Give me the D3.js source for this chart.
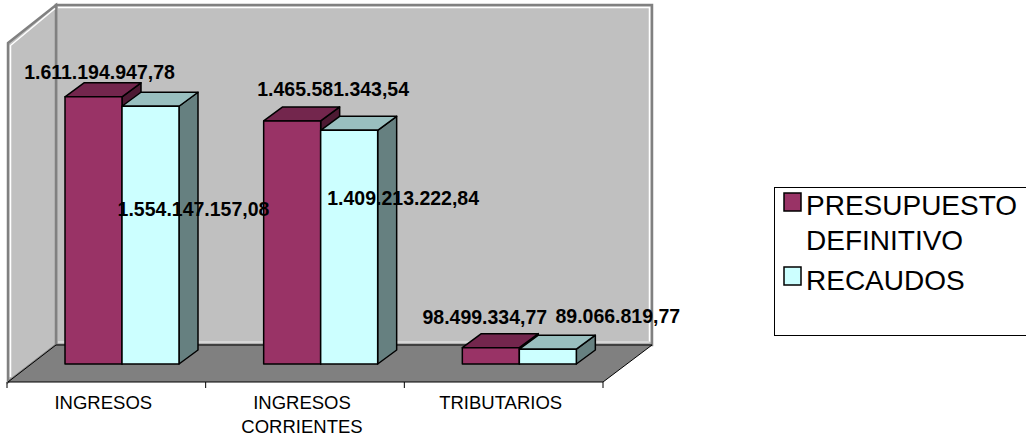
<!DOCTYPE html>
<html>
<head>
<meta charset="utf-8">
<script src="https://cdn.jsdelivr.net/npm/d3@7"></script>
<style>
  body { margin: 0; background: #fff; }
  svg { display: block; font-family: "Liberation Sans", Arial, sans-serif; }
</style>
</head>
<body>
<svg id="chart" width="1026" height="437"></svg>
<script>
// data
const categories = ['INGRESOS', 'INGRESOS CORRIENTES', 'TRIBUTARIOS'];
const categoryLines = [['INGRESOS'], ['INGRESOS', 'CORRIENTES'], ['TRIBUTARIOS']];
const seriesNames = ['PRESUPUESTO DEFINITIVO', 'RECAUDOS'];
const legendLines = [['PRESUPUESTO', 'DEFINITIVO'], ['RECAUDOS']];
const presupuesto = [1611194947.78, 1465581343.54, 98499334.77];
const recaudos = [1554147157.08, 1409213222.84, 89066819.77];

// layout only: where each value label sits, relative to the bar's top-front centre
const labelShift = [
  [[6, -18], [43, 110]],
  [[41, -25], [54, 75]],
  [[-6, -24], [70, -26]]
];

const frontColor = ['#993366', '#CCFFFF'];
const topColor = ['#73264D', '#99BFBF'];
const sideColor = ['#4D1A33', '#668080'];

const es = d3.formatLocale({decimal: ',', thousands: '.', grouping: [3], currency: ['', '']});
const fmt = es.format(',.2f');

const svg = d3.select('#chart');

// floor / walls frame (oblique 3d box)
const floorFrontY = 382, floorBackY = 345;
const leftFront = 8, leftBack = 56, rightFront = 603, rightBack = 652;
const wallTop = 5, leftWallTop = 43;
const baseY = 364;           // bars stand mid-depth on the floor
const barW = 57, depthX = 19, depthY = 14;

const x = d3.scaleBand().domain(categories).range([7, rightFront]);
const xs = d3.scaleBand().domain(seriesNames).range([58, 58 + barW * 2]);
const y = d3.scaleLinear().domain([0, 2.05e9]).range([0, floorBackY - wallTop]);

const poly = pts => 'M' + pts.map(p => p.join(',')).join('L') + 'Z';
const pline = pts => 'M' + pts.map(p => p.join(',')).join('L');

// back wall
svg.append('path')
  .attr('d', poly([[leftBack, wallTop], [rightBack, wallTop], [rightBack, floorBackY], [leftBack, floorBackY]]))
  .attr('fill', '#C0C0C0').attr('stroke', '#808080').attr('stroke-width', 2.5);
svg.append('path')
  .attr('d', pline([[leftBack + 2, wallTop + 2.5], [rightBack - 2.5, wallTop + 2.5], [rightBack - 2.5, floorBackY - 3]]))
  .attr('fill', 'none').attr('stroke', '#fff').attr('stroke-width', 1.5);
svg.append('path')
  .attr('d', pline([[leftBack + 2, floorBackY - 3], [rightBack - 2.5, floorBackY - 3]]))
  .attr('fill', 'none').attr('stroke', '#d6d6d6').attr('stroke-width', 2);

// left wall
svg.append('path')
  .attr('d', poly([[leftFront, leftWallTop], [leftBack, wallTop], [leftBack, floorBackY], [leftFront, floorFrontY]]))
  .attr('fill', '#C0C0C0').attr('stroke', '#808080').attr('stroke-width', 2.5);
svg.append('path')
  .attr('d', pline([[leftFront + 2.5, floorFrontY - 5], [leftFront + 2.5, leftWallTop + 2.5], [leftBack - 1, wallTop + 3.5]]))
  .attr('fill', 'none').attr('stroke', '#fff').attr('stroke-width', 1.5);

// floor
svg.append('path')
  .attr('d', poly([[leftFront, floorFrontY], [leftBack, floorBackY], [rightBack, floorBackY], [rightFront, floorFrontY]]))
  .attr('fill', '#808080').attr('stroke', '#000').attr('stroke-width', 1);

// ticks on the front edge
const edges = categories.map(c => x(c)).concat([x.range()[1]]);
svg.append('g').selectAll('line').data(edges).join('line')
  .attr('x1', d => d).attr('x2', d => d)
  .attr('y1', floorFrontY).attr('y2', floorFrontY + 6)
  .attr('stroke', '#000').attr('stroke-width', 1);

// category labels
categories.forEach((c, i) => {
  const t = svg.append('text')
    .attr('x', x(c) + x.bandwidth() / 2 - 3)
    .attr('y', 409)
    .attr('text-anchor', 'middle')
    .attr('font-size', '18.5px')
    .attr('fill', '#000');
  categoryLines[i].forEach((ln, j) => {
    t.append('tspan').attr('x', x(c) + x.bandwidth() / 2 - 3).attr('dy', j ? 24 : 0).text(ln);
  });
});

// bars
const series = [presupuesto, recaudos];
const bars = svg.append('g');
categories.forEach((c, i) => {
  series.forEach((vals, s) => {
    const x0 = x(c) + xs(seriesNames[s]);
    const x1 = x0 + barW;
    const yt = baseY - y(vals[i]);
    const g = bars.append('g')
      .attr('stroke', '#000').attr('stroke-width', 1.5).attr('stroke-linejoin', 'round');
    g.append('path')
      .attr('d', poly([[x1, yt], [x1 + depthX, yt - depthY], [x1 + depthX, baseY - depthY], [x1, baseY]]))
      .attr('fill', sideColor[s]);
    g.append('path')
      .attr('d', poly([[x0, yt], [x0 + depthX, yt - depthY], [x1 + depthX, yt - depthY], [x1, yt]]))
      .attr('fill', topColor[s]);
    g.append('rect')
      .attr('x', x0).attr('y', yt).attr('width', barW).attr('height', baseY - yt)
      .attr('fill', frontColor[s]);
  });
});

// value labels
categories.forEach((c, i) => {
  series.forEach((vals, s) => {
    const cx = x(c) + xs(seriesNames[s]) + barW / 2;
    const yt = baseY - y(vals[i]);
    svg.append('text')
      .attr('x', cx + labelShift[i][s][0])
      .attr('y', yt + labelShift[i][s][1])
      .attr('text-anchor', 'middle')
      .attr('font-size', '19.5px')
      .attr('font-weight', 'bold')
      .attr('fill', '#000')
      .text(fmt(vals[i]));
  });
});

// legend
const lg = svg.append('g');
lg.append('rect')
  .attr('x', 774.5).attr('y', 187.5).attr('width', 260).attr('height', 148)
  .attr('fill', '#fff').attr('stroke', '#000').attr('stroke-width', 1);
const legendY = [193, 267];
const legendBase = [[215, 250], [290]];
seriesNames.forEach((n, s) => {
  lg.append('rect')
    .attr('x', 784).attr('y', legendY[s]).attr('width', 17).attr('height', 18)
    .attr('fill', frontColor[s]).attr('stroke', '#000').attr('stroke-width', 1.5);
  legendLines[s].forEach((ln, j) => {
    lg.append('text')
      .attr('x', 806).attr('y', legendBase[s][j])
      .attr('font-size', '28px').attr('fill', '#000')
      .text(ln);
  });
});
</script>
</body>
</html>
